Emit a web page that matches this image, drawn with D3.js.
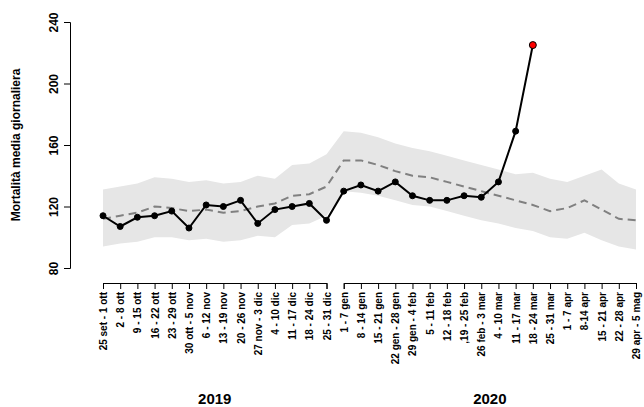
<!DOCTYPE html>
<html lang="it">
<head>
<meta charset="UTF-8">
<title>Mortalità</title>
<script src="https://d3js.org/d3.v7.min.js"></script>
<style>
body { margin: 0; background: #fff; }
text { font-family: "Liberation Sans", Arial, sans-serif; }
</style>
</head>
<body>
<svg id="chart" width="644" height="407"></svg>
<script>
var weeks2019 = ["25 set - 1 ott", "2 - 8 ott", "9 - 15 ott", "16 - 22 ott", "23 - 29 ott", "30 ott - 5 nov",
    "6 - 12 nov", "13 - 19 nov", "20 - 26 nov", "27 nov - 3 dic", "4 - 10 dic", "11 - 17 dic", "18 - 24 dic", "25 - 31 dic"];
var weeks2020 = ["1 - 7 gen", "8 - 14 gen", "15 - 21 gen", "22 gen - 28 gen", "29 gen - 4 feb", "5 - 11 feb",
    "12 - 18 feb", ",19 - 25 feb", "26 feb - 3 mar", "4 - 10 mar", "11 - 17 mar", "18 - 24 mar", "25 - 31 mar",
    "1 - 7 apr", "8-14 apr", "15 - 21 apr", "22 - 28 apr", "29 apr - 5 mag"];
var observed = [114, 107, 113, 114, 117, 106, 121, 120, 124, 109, 118, 120, 122, 111,
    130, 134, 130, 136, 127, 124, 124, 127, 126, 136, 169, 225];
var expected = [112, 114, 116, 120, 119, 117, 118, 116, 117, 120, 122, 127, 128, 133,
    150, 150, 147, 143, 140, 139, 136, 133, 130, 127, 124, 121, 117, 119, 124, 118, 112, 111];
var upper = [131, 133, 135, 139, 138, 136, 137, 135, 136, 140, 138, 147, 148, 154,
    169, 168, 165, 161, 158, 156, 153, 150, 147, 144, 141, 142, 138, 136, 140, 144, 135, 131];
var lower = [94, 96, 97, 100, 100, 98, 99, 97, 98, 101, 100, 108, 109, 114,
    130, 129, 127, 124, 121, 120, 117, 114, 111, 109, 106, 104, 100, 99, 103, 98, 94, 92];
var yTicks = [80, 120, 160, 200, 240];

var labels = weeks2019.concat(weeks2020);
var svg = d3.select("#chart");

var x = d3.scaleLinear().domain([0, labels.length - 1]).range([103, 636]);
var y = d3.scaleLinear().domain([80, 240]).range([268, 22]);

// confidence band
svg.append("path")
    .datum(upper.map(function(u, i) { return [u, lower[i]]; }))
    .attr("fill", "#e6e6e6")
    .attr("d", d3.area()
        .x(function(d, i) { return x(i); })
        .y0(function(d) { return y(d[1]); })
        .y1(function(d) { return y(d[0]); }));

// expected
svg.append("path")
    .datum(expected)
    .attr("fill", "none")
    .attr("stroke", "#808080")
    .attr("stroke-width", 2)
    .attr("stroke-dasharray", "8,5")
    .attr("d", d3.line().x(function(d, i) { return x(i); }).y(function(d) { return y(d); }));

// observed
svg.append("path")
    .datum(observed)
    .attr("fill", "none")
    .attr("stroke", "#000")
    .attr("stroke-width", 2)
    .attr("d", d3.line().x(function(d, i) { return x(i); }).y(function(d) { return y(d); }));

svg.selectAll("circle.obs")
    .data(observed)
    .enter().append("circle")
    .attr("cx", function(d, i) { return x(i); })
    .attr("cy", function(d) { return y(d); })
    .attr("r", function(d, i) { return i === observed.length - 1 ? 3.5 : 3; })
    .attr("fill", function(d, i) { return i === observed.length - 1 ? "#ff0000" : "#000"; })
    .attr("stroke", "#000")
    .attr("stroke-width", 1);

// y axis
var yAxis = svg.append("g")
    .attr("transform", "translate(70,0)")
    .call(d3.axisLeft(y).tickValues(yTicks).tickSize(6));
yAxis.selectAll(".tick text")
    .attr("transform", "rotate(-90) translate(0,-12)")
    .attr("x", 0).attr("y", 0).attr("dy", "0em")
    .style("text-anchor", "middle")
    .style("font-size", "12px").style("font-weight", "bold");

svg.append("text")
    .attr("transform", "translate(20,145) rotate(-90)")
    .attr("text-anchor", "middle")
    .style("font-size", "12px").style("font-weight", "bold")
    .text("Mortalità media giornaliera");

// x axes per year
function yearAxis(start, list, year) {
    var sub = d3.scaleLinear().domain([0, list.length - 1]).range([x(start), x(start + list.length - 1)]);
    var g = svg.append("g").attr("transform", "translate(0,283)")
        .call(d3.axisBottom(sub).tickValues(d3.range(list.length)).tickSize(6)
            .tickFormat(function(i) { return list[i]; }));
    g.selectAll(".tick text")
        .attr("transform", "rotate(-90)")
        .attr("x", -9).attr("y", 0).attr("dy", "0.35em")
        .style("text-anchor", "end")
        .style("font-size", "10px").style("font-weight", "bold");
    svg.append("text")
        .attr("x", (x(start) + x(start + list.length - 1)) / 2)
        .attr("y", 404)
        .attr("text-anchor", "middle")
        .style("font-size", "15px").style("font-weight", "bold")
        .text(year);
}
yearAxis(0, weeks2019, "2019");
yearAxis(weeks2019.length, weeks2020, "2020");
svg.selectAll(".domain").attr("stroke", "#000");
</script>
</body>
</html>
